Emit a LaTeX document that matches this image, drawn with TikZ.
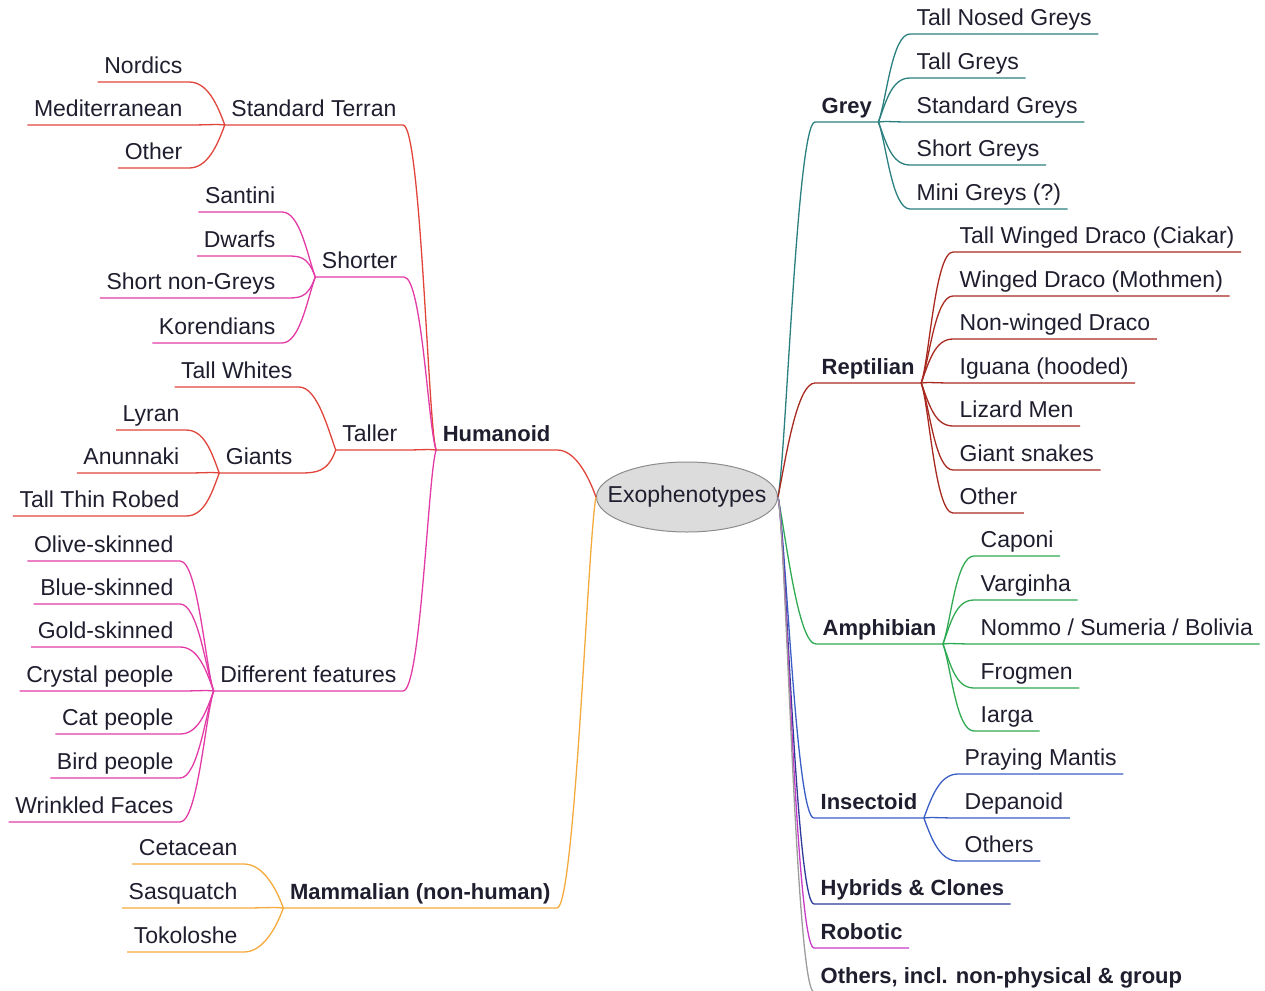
\documentclass[tikz,border=0pt]{standalone}
\usepackage{fontspec}
\setmainfont{Liberation Sans}
\usetikzlibrary{shapes.geometric}
\definecolor{mmText}{HTML}{1E1E2E}
\definecolor{mmRoot}{HTML}{DCDCDC}
\definecolor{mmRootBd}{HTML}{8C8C8C}
\definecolor{mmRed}{HTML}{E0443A}
\definecolor{mmPink}{HTML}{E23AA6}
\definecolor{mmOrange}{HTML}{F4AA3C}
\definecolor{mmTeal}{HTML}{2A7F80}
\definecolor{mmBrick}{HTML}{A8291F}
\definecolor{mmGreen}{HTML}{2FAA52}
\definecolor{mmBlue}{HTML}{3A5EC6}
\definecolor{mmNavy}{HTML}{2E3A98}
\definecolor{mmViolet}{HTML}{C63CC8}
\definecolor{mmGray}{HTML}{9C9C9C}
\newcommand\mmfont{\fontsize{23}{27}\selectfont}
\newcommand\mmbold{\fontsize{22}{26}\selectfont\bfseries}

\begin{document}
\begin{tikzpicture}[
  x=1pt, y=-1pt, line width=1.3pt,
  topic/.style ={font=\mmfont, text=mmText, inner xsep=6pt, inner ysep=3pt,
                 text height=17pt, text depth=5pt},
  main/.style  ={topic, font=\mmbold},
  R/.style     ={anchor=south west},
  L/.style     ={anchor=south east},
  root/.style  ={ellipse, draw=mmRootBd, fill=mmRoot, line width=1pt, inner sep=0pt,
                 minimum width=181pt, minimum height=70pt, font=\mmfont, text=mmText},
  upR/.style={to path={.. controls +(8,-#1) and +(-18,0) .. (\tikztotarget)}}, upR/.default=22,
  dnR/.style={to path={.. controls +(8,#1) and +(-18,0) .. (\tikztotarget)}}, dnR/.default=22,
  upL/.style={to path={.. controls +(-8,-#1) and +(18,0) .. (\tikztotarget)}}, upL/.default=22,
  dnL/.style={to path={.. controls +(-8,#1) and +(18,0) .. (\tikztotarget)}}, dnL/.default=22]
  \useasboundingbox (0,0) rectangle (1265,990);

  \node[root] (root) at (687,497) {\makebox[0pt]{Exophenotypes}};

  \node[main,R] (grey) at (815,122) {Grey};
  \node[main,R] (rept) at (815,383) {Reptilian};
  \node[main,R] (amph) at (816,644) {Amphibian};
  \node[main,R] (inse) at (814,818) {Insectoid};
  \node[main,R] (hybr) at (814,904) {Hybrids \& Clones};
  \node[main,R] (robo) at (814,948) {Robotic};
  \node[main,R] (othr) at (814,992) {Others, incl. non-physical \& group};
  \draw[mmTeal]   (root.east) to[upR=40] (grey.south west) -- (grey.south east);
  \draw[mmBrick]  (root.east) to[upR=40] (rept.south west) -- (rept.south east);
  \draw[mmGreen]  (root.east) to[dnR=40] (amph.south west) -- (amph.south east);
  \draw[mmBlue]   (root.east) to[dnR=40] (inse.south west) -- (inse.south east);
  \draw[mmNavy]   (root.east) to[dnR=40] (hybr.south west) -- (hybr.south east);
  \draw[mmViolet] (root.east) to[dnR=40] (robo.south west) -- (robo.south east);
  \draw[mmGray]   (root.east) to[dnR=40] (othr.south west) -- (othr.south east);

  \node[topic,R] (tng) at (910,34)  {Tall Nosed Greys};
  \node[topic,R] (tgr) at (910,78)  {Tall Greys};
  \node[topic,R] (sgr) at (910,122) {Standard Greys};
  \node[topic,R] (shg) at (910,165) {Short Greys};
  \node[topic,R] (mgr) at (910,209) {Mini Greys (?)};
  \draw[mmTeal] (grey.south east) to[upR] (tng.south west) -- (tng.south east);
  \draw[mmTeal] (grey.south east) to[upR] (tgr.south west) -- (tgr.south east);
  \draw[mmTeal] (grey.south east) to[upR=1] (sgr.south west) -- (sgr.south east);
  \draw[mmTeal] (grey.south east) to[dnR] (shg.south west) -- (shg.south east);
  \draw[mmTeal] (grey.south east) to[dnR] (mgr.south west) -- (mgr.south east);

  \node[topic,R] (twd) at (953,252) {Tall Winged Draco (Ciakar)};
  \node[topic,R] (wdm) at (953,296) {Winged Draco (Mothmen)};
  \node[topic,R] (nwd) at (953,339) {Non-winged Draco};
  \node[topic,R] (igu) at (953,383) {Iguana (hooded)};
  \node[topic,R] (lzm) at (953,426) {Lizard Men};
  \node[topic,R] (gsn) at (953,470) {Giant snakes};
  \node[topic,R] (rot) at (953,513) {Other};
  \draw[mmBrick] (rept.south east) to[upR] (twd.south west) -- (twd.south east);
  \draw[mmBrick] (rept.south east) to[upR] (wdm.south west) -- (wdm.south east);
  \draw[mmBrick] (rept.south east) to[upR] (nwd.south west) -- (nwd.south east);
  \draw[mmBrick] (rept.south east) to[upR=1] (igu.south west) -- (igu.south east);
  \draw[mmBrick] (rept.south east) to[dnR] (lzm.south west) -- (lzm.south east);
  \draw[mmBrick] (rept.south east) to[dnR] (gsn.south west) -- (gsn.south east);
  \draw[mmBrick] (rept.south east) to[dnR] (rot.south west) -- (rot.south east);

  \node[topic,R] (cap) at (974,556) {Caponi};
  \node[topic,R] (var) at (974,600) {Varginha};
  \node[topic,R] (nom) at (974,644) {Nommo / Sumeria / Bolivia};
  \node[topic,R] (frg) at (974,688) {Frogmen};
  \node[topic,R] (iar) at (974,731) {Iarga};
  \draw[mmGreen] (amph.south east) to[upR] (cap.south west) -- (cap.south east);
  \draw[mmGreen] (amph.south east) to[upR] (var.south west) -- (var.south east);
  \draw[mmGreen] (amph.south east) to[upR=1] (nom.south west) -- (nom.south east);
  \draw[mmGreen] (amph.south east) to[dnR] (frg.south west) -- (frg.south east);
  \draw[mmGreen] (amph.south east) to[dnR] (iar.south west) -- (iar.south east);

  \node[topic,R] (pmt) at (958,774) {Praying Mantis};
  \node[topic,R] (dep) at (958,818) {Depanoid};
  \node[topic,R] (ios) at (958,861) {Others};
  \draw[mmBlue] (inse.south east) to[upR] (pmt.south west) -- (pmt.south east);
  \draw[mmBlue] (inse.south east) to[upR=1] (dep.south west) -- (dep.south east);
  \draw[mmBlue] (inse.south east) to[dnR] (ios.south west) -- (ios.south east);

  \node[main,L] (hum) at (557,450) {Humanoid};
  \node[main,L] (mam) at (557,908) {Mammalian (non-human)};
  \draw[mmRed]    (root.west) to[upL] (hum.south east) -- (hum.south west);
  \draw[mmOrange] (root.west) to[dnL=40] (mam.south east) -- (mam.south west);

  \node[topic,L] (ster) at (403,125) {Standard Terran};
  \node[topic,L] (shor) at (404,277) {Shorter};
  \node[topic,L] (tall) at (404,450) {Taller};
  \node[topic,L] (diff) at (403,691) {Different features};
  \draw[mmRed]  (hum.south west) to[upL] (ster.south east) -- (ster.south west);
  \draw[mmPink] (hum.south west) to[upL] (shor.south east) -- (shor.south west);
  \draw[mmRed]  (hum.south west) to[upL=1] (tall.south east) -- (tall.south west);
  \draw[mmPink] (hum.south west) to[dnL] (diff.south east) -- (diff.south west);

  \node[topic,L] (nor) at (189,82)  {Nordics};
  \node[topic,L] (med) at (189,125) {Mediterranean};
  \node[topic,L] (sto) at (189,168) {Other};
  \draw[mmRed] (ster.south west) to[upL] (nor.south east) -- (nor.south west);
  \draw[mmRed] (ster.south west) to[upL=1] (med.south east) -- (med.south west);
  \draw[mmRed] (ster.south west) to[dnL] (sto.south east) -- (sto.south west);

  \node[topic,L] (san) at (282,212) {Santini};
  \node[topic,L] (dwa) at (282,256) {Dwarfs};
  \node[topic,L] (sng) at (282,298) {Short non-Greys};
  \node[topic,L] (kor) at (282,343) {Korendians};
  \draw[mmPink] (shor.south west) to[upL] (san.south east) -- (san.south west);
  \draw[mmPink] (shor.south west) to[upL] (dwa.south east) -- (dwa.south west);
  \draw[mmPink] (shor.south west) to[dnL] (sng.south east) -- (sng.south west);
  \draw[mmPink] (shor.south west) to[dnL] (kor.south east) -- (kor.south west);

  \node[topic,L] (twh) at (299,387) {Tall Whites};
  \node[topic,L] (gia) at (299,473) {Giants};
  \draw[mmRed] (tall.south west) to[upL] (twh.south east) -- (twh.south west);
  \draw[mmRed] (tall.south west) to[dnL] (gia.south east) -- (gia.south west);

  \node[topic,L] (lyr) at (186,430) {Lyran};
  \node[topic,L] (anu) at (186,473) {Anunnaki};
  \node[topic,L] (ttr) at (186,516) {Tall Thin Robed};
  \draw[mmRed] (gia.south west) to[upL] (lyr.south east) -- (lyr.south west);
  \draw[mmRed] (gia.south west) to[upL=1] (anu.south east) -- (anu.south west);
  \draw[mmRed] (gia.south west) to[dnL] (ttr.south east) -- (ttr.south west);

  \node[topic,L] (oli) at (180,561) {Olive-skinned};
  \node[topic,L] (blu) at (180,604) {Blue-skinned};
  \node[topic,L] (gol) at (180,647) {Gold-skinned};
  \node[topic,L] (cry) at (180,691) {Crystal people};
  \node[topic,L] (cat) at (180,734) {Cat people};
  \node[topic,L] (bir) at (180,778) {Bird people};
  \node[topic,L] (wri) at (180,822) {Wrinkled Faces};
  \draw[mmPink] (diff.south west) to[upL] (oli.south east) -- (oli.south west);
  \draw[mmPink] (diff.south west) to[upL] (blu.south east) -- (blu.south west);
  \draw[mmPink] (diff.south west) to[upL] (gol.south east) -- (gol.south west);
  \draw[mmPink] (diff.south west) to[upL=1] (cry.south east) -- (cry.south west);
  \draw[mmPink] (diff.south west) to[dnL] (cat.south east) -- (cat.south west);
  \draw[mmPink] (diff.south west) to[dnL] (bir.south east) -- (bir.south west);
  \draw[mmPink] (diff.south west) to[dnL] (wri.south east) -- (wri.south west);

  \node[topic,L] (cet) at (244,864) {Cetacean};
  \node[topic,L] (sas) at (244,908) {Sasquatch};
  \node[topic,L] (tok) at (244,952) {Tokoloshe};
  \draw[mmOrange] (mam.south west) to[upL] (cet.south east) -- (cet.south west);
  \draw[mmOrange] (mam.south west) to[upL=1] (sas.south east) -- (sas.south west);
  \draw[mmOrange] (mam.south west) to[dnL] (tok.south east) -- (tok.south west);
\end{tikzpicture}
\end{document}
